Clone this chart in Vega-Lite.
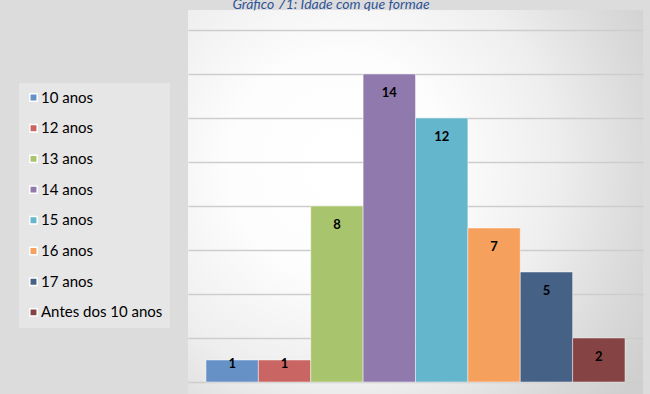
{
  "$schema": "https://vega.github.io/schema/vega-lite/v6.json",
  "width": 455,
  "height": 384,
  "autosize": {"type": "none"},
  "padding": {"left": 188, "top": 10, "right": 7, "bottom": 0},
  "background": "#dcdcdc",
  "title": {
    "text": "Gráfico 71: Idade com que formae",
    "font": "Lato",
    "fontSize": 14,
    "fontStyle": "italic",
    "fontWeight": 400,
    "color": "#2F5496",
    "anchor": "middle",
    "frame": "bounds",
    "offset": -2
  },
  "config": {
    "view": {
      "stroke": null,
      "fill": {
        "gradient": "radial",
        "x1": 0.33, "y1": 0.42, "r1": 0,
        "x2": 0.33, "y2": 0.42, "r2": 0.8,
        "stops": [
          {"offset": 0, "color": "#ffffff"},
          {"offset": 0.3, "color": "#fdfdfd"},
          {"offset": 0.6, "color": "#eeeeee"},
          {"offset": 0.85, "color": "#d9d9d9"},
          {"offset": 1, "color": "#cfcfcf"}
        ]
      }
    }
  },
  "data": {
    "values": [
      {"idade": "10 anos", "n": 1},
      {"idade": "12 anos", "n": 1},
      {"idade": "13 anos", "n": 8},
      {"idade": "14 anos", "n": 14},
      {"idade": "15 anos", "n": 12},
      {"idade": "16 anos", "n": 7},
      {"idade": "17 anos", "n": 5},
      {"idade": "Antes dos 10 anos", "n": 2}
    ]
  },
  "encoding": {
    "x": {
      "field": "idade", "type": "nominal", "sort": null, "axis": null,
      "scale": {"paddingInner": 0, "paddingOuter": 0.3435}
    },
    "y": {
      "field": "n", "type": "quantitative",
      "scale": {"domain": [-0.545, 16.91], "nice": false, "zero": false},
      "axis": {
        "values": [0, 2, 4, 6, 8, 10, 12, 14, 16],
        "grid": true,
        "gridColor": "#cdcdcd",
        "gridWidth": 1.3,
        "labels": false,
        "ticks": false,
        "domain": false,
        "title": null
      }
    }
  },
  "layer": [
    {
      "mark": {"type": "bar", "stroke": "#ffffff", "strokeOpacity": 0.45, "strokeWidth": 1},
      "encoding": {
        "color": {
          "field": "idade", "type": "nominal", "sort": null,
          "scale": {"range": ["#6591C7", "#C96563", "#A8C46C", "#9079AD", "#64B6CC", "#F5A05D", "#456185", "#854443"]},
          "legend": {
            "title": null,
            "orient": "none",
            "legendX": -169,
            "legendY": 73,
            "symbolType": "square",
            "symbolSize": 55,
            "labelFont": "Lato",
            "labelFontSize": 15,
            "labelColor": "#000000",
            "labelOffset": 0,
            "rowPadding": 14.7,
            "padding": 7,
            "fillColor": "rgba(255,255,255,0.3)"
          }
        }
      }
    },
    {
      "transform": [{"filter": "datum.n >= 2"}],
      "mark": {"type": "text", "font": "Lato", "fontSize": 13, "fontWeight": "bold", "color": "#000000", "baseline": "middle", "dy": 19},
      "encoding": {
        "text": {"field": "n", "type": "quantitative"}
      }
    },
    {
      "transform": [{"filter": "datum.n < 2"}],
      "mark": {"type": "text", "font": "Lato", "fontSize": 13, "fontWeight": "bold", "color": "#000000", "baseline": "middle", "dy": 4},
      "encoding": {
        "text": {"field": "n", "type": "quantitative"}
      }
    }
  ]
}
